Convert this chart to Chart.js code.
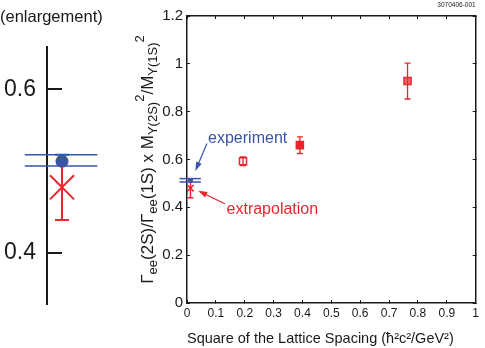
<!DOCTYPE html>
<html>
<head>
<meta charset="utf-8">
<script src="https://cdn.jsdelivr.net/npm/chart.js@4.4.0/dist/chart.umd.min.js"></script>
<style>
    html, body { margin: 0; padding: 0; background: #fff; }
    #wrap { position: relative; width: 485px; height: 348px; }
    #wrap canvas { position: absolute; left: 0; top: 0; }
</style>
</head>
<body>
<div id="wrap">
    <canvas id="mainChart" width="485" height="348"></canvas>
    <canvas id="zoomChart" width="130" height="348"></canvas>
</div>
<script>
// lattice points: a^2 (GeV^-2) vs ratio
const latticeA2 = [0.194, 0.391, 0.764];
const latticeRatio = [0.593, 0.660, 0.928];
const latticeErr = [0.018, 0.035, 0.075];

// extrapolation to a = 0
const extrapX = 0.012;
const extrapY = 0.48;
const extrapLow = 0.44;
const extrapHigh = 0.52;

// experiment
const expX = 0.012;
const expY = 0.512;
const expBand = [0.506, 0.52];
const expSpan = [-0.026, 0.048];

// ticks
const xTicks = [0, 0.1, 0.2, 0.3, 0.4, 0.5, 0.6, 0.7, 0.8, 0.9, 1];
const xTickLabels = ['0', '0.1', '0.2', '0.3', '0.4', '0.5', '0.6', '0.7', '0.8', '0.9', '1'];
const yTicks = [0, 0.2, 0.4, 0.6, 0.8, 1, 1.2];
const yTickLabels = ['0', '0.2', '0.4', '0.6', '0.8', '1', '1.2'];
const zoomTicks = [0.4, 0.6];
const zoomTickLabels = ['0.4', '0.6'];

const RED = '#e8262d';
const BLUE = '#3a54a8';
const INK = '#1a1a1a';
const FONT = '"Liberation Sans", Arial, sans-serif';
const markerFills = ['#ffffff', RED, '#f06a70'];

function buildDatasets(sz) {
    const sets = [];
    sets.push({ type: 'scatter', data: [{ x: expX, y: expY }], pointStyle: 'circle', pointRadius: sz.dot,
        backgroundColor: BLUE, borderColor: BLUE, borderWidth: 0, clip: false });
    expBand.forEach(b => {
        sets.push({ type: 'line', data: [{ x: expSpan[0], y: b }, { x: expSpan[1], y: b }],
            borderColor: BLUE, borderWidth: sz.band, pointRadius: 0, clip: false });
    });
    sets.push({ type: 'scatter', data: [{ x: extrapX, y: extrapY }], pointStyle: 'crossRot', pointRadius: sz.cross,
        borderColor: RED, borderWidth: sz.lw, clip: false });
    sets.push({ type: 'line', data: [{ x: extrapX, y: extrapLow }, { x: extrapX, y: extrapHigh }],
        borderColor: RED, borderWidth: sz.lw, pointStyle: 'line', pointRadius: sz.cap,
        pointBorderColor: RED, pointBorderWidth: sz.lw, clip: false });
    if (sz.lattice) {
        latticeA2.forEach((a, i) => {
            sets.push({ type: 'line', data: [{ x: a, y: latticeRatio[i] - latticeErr[i] }, { x: a, y: latticeRatio[i] + latticeErr[i] }],
                borderColor: RED, borderWidth: 1.3, pointStyle: 'line', pointRadius: 3,
                pointBorderColor: RED, pointBorderWidth: 1.3 });
        });
        sets.push({ type: 'scatter', data: latticeA2.map((a, i) => ({ x: a, y: latticeRatio[i] })),
            pointStyle: 'rect', pointRadius: 5, backgroundColor: markerFills, borderColor: RED, borderWidth: 1.5 });
    }
    return sets;
}

function drawArrow(ctx, x1, y1, x2, y2, color) {
    const ang = Math.atan2(y2 - y1, x2 - x1);
    ctx.strokeStyle = color;
    ctx.fillStyle = color;
    ctx.lineWidth = 1.2;
    ctx.beginPath();
    ctx.moveTo(x1, y1);
    ctx.lineTo(x2 - 6 * Math.cos(ang), y2 - 6 * Math.sin(ang));
    ctx.stroke();
    ctx.beginPath();
    ctx.moveTo(x2, y2);
    ctx.lineTo(x2 - 9 * Math.cos(ang) + 3 * Math.sin(ang), y2 - 9 * Math.sin(ang) - 3 * Math.cos(ang));
    ctx.lineTo(x2 - 9 * Math.cos(ang) - 3 * Math.sin(ang), y2 - 9 * Math.sin(ang) + 3 * Math.cos(ang));
    ctx.closePath();
    ctx.fill();
}

// rotated y title with sub/superscripts
const yTitleParts = [
    ['\u0393', 0], ['ee', 1], ['(2S)/\u0393', 0], ['ee', 1], ['(1S) x M', 0], ['\u03A5(2S)', 1], ['2', 2],
    ['/M', 0], ['\u03A5(1S)', 1], ['2', 2]
];

const textPlugin = {
    id: 'texts',
    afterDraw(chart) {
        const ctx = chart.ctx;
        const xs = chart.scales.x, ys = chart.scales.y;
        ctx.save();
        // y title
        const f = 17, fs = 13;
        ctx.translate(147, (chart.chartArea.top + chart.chartArea.bottom) / 2);
        ctx.rotate(-Math.PI / 2);
        let total = 0;
        yTitleParts.forEach(p => {
            ctx.font = (p[1] ? fs : f) + 'px ' + FONT;
            total += ctx.measureText(p[0]).width;
        });
        let cx = -total / 2;
        ctx.fillStyle = INK;
        ctx.textBaseline = 'alphabetic';
        yTitleParts.forEach(p => {
            ctx.font = (p[1] ? fs : f) + 'px ' + FONT;
            const dy = p[1] === 1 ? 0.35 * f + 4 : p[1] === 2 ? 0.35 * f - 9 : 0.35 * f;
            ctx.fillText(p[0], cx, dy);
            cx += ctx.measureText(p[0]).width;
        });
        ctx.restore();

        ctx.save();
        ctx.font = '6.5px ' + FONT;
        ctx.fillStyle = INK;
        ctx.textAlign = 'right';
        ctx.textBaseline = 'middle';
        ctx.fillText('3070406-001', chart.chartArea.right, 5);

        // annotations
        ctx.font = '16px ' + FONT;
        ctx.textAlign = 'left';
        ctx.fillStyle = BLUE;
        ctx.fillText('experiment', xs.getPixelForValue(0.073), ys.getPixelForValue(0.688));
        drawArrow(ctx, xs.getPixelForValue(0.069), ys.getPixelForValue(0.667),
            xs.getPixelForValue(0.029), ys.getPixelForValue(0.552), BLUE);
        ctx.fillStyle = RED;
        ctx.fillText('extrapolation', xs.getPixelForValue(0.137), ys.getPixelForValue(0.39));
        drawArrow(ctx, xs.getPixelForValue(0.131), ys.getPixelForValue(0.415),
            xs.getPixelForValue(0.039), ys.getPixelForValue(0.469), RED);
        ctx.restore();
    }
};

const zoomTextPlugin = {
    id: 'zoomTexts',
    afterDraw(chart) {
        const ctx = chart.ctx;
        ctx.save();
        ctx.font = '16.5px ' + FONT;
        ctx.fillStyle = INK;
        ctx.textBaseline = 'middle';
        ctx.fillText('(enlargement)', 0, 17);
        ctx.restore();
    }
};

function fixTicks(values) {
    return s => { s.ticks = values.map(v => ({ value: v })); };
}

new Chart(document.getElementById('mainChart'), {
    type: 'scatter',
    data: { datasets: buildDatasets({ dot: 2.5, band: 1.5, cross: 4.5, lw: 1.5, cap: 3, lattice: true }) },
    options: {
        responsive: false,
        animation: false,
        events: [],
        plugins: { legend: { display: false }, tooltip: { enabled: false } },
        layout: { padding: 0 },
        scales: {
            x: {
                type: 'linear', position: 'bottom', min: 0, max: 1,
                afterBuildTicks: fixTicks(xTicks),
                afterFit: s => { s.height = 45; },
                ticks: { font: { family: FONT, size: 12 }, color: INK, padding: 6, maxRotation: 0, autoSkip: false,
                    callback: (v, i) => xTickLabels[i] },
                grid: { drawOnChartArea: false, tickLength: -3, color: INK, lineWidth: 1 },
                border: { color: INK, width: 1.5 },
                title: { display: true, align: 'start', text: 'Square of the Lattice Spacing (\u0127\u00B2c\u00B2/GeV\u00B2)',
                    font: { family: FONT, size: 14.5 }, color: INK, padding: { top: 0, bottom: 0 } }
            },
            x2: {
                type: 'linear', position: 'top', min: 0, max: 1,
                afterBuildTicks: fixTicks(xTicks),
                afterFit: s => { s.height = 13; },
                ticks: { display: false },
                grid: { drawOnChartArea: false, tickLength: -3, color: INK, lineWidth: 1 },
                border: { color: INK, width: 1.5 }
            },
            y: {
                type: 'linear', position: 'left', min: 0, max: 1.2,
                afterBuildTicks: fixTicks(yTicks),
                afterFit: s => { s.width = 187; },
                ticks: { font: { family: FONT, size: 15 }, color: INK, padding: 7,
                    callback: (v, i) => yTickLabels[i] },
                grid: { drawOnChartArea: false, tickLength: -3, color: INK, lineWidth: 1 },
                border: { color: INK, width: 1.5 }
            },
            y2: {
                type: 'linear', position: 'right', min: 0, max: 1.2,
                afterBuildTicks: fixTicks(yTicks),
                afterFit: s => { s.width = 7; },
                ticks: { display: false },
                grid: { drawOnChartArea: false, tickLength: -3, color: INK, lineWidth: 1 },
                border: { color: INK, width: 1.5 }
            }
        }
    },
    plugins: [textPlugin]
});

new Chart(document.getElementById('zoomChart'), {
    type: 'scatter',
    data: { datasets: buildDatasets({ dot: 6.5, band: 1.5, cross: 17, lw: 2, cap: 7, lattice: false }) },
    options: {
        responsive: false,
        animation: false,
        events: [],
        plugins: { legend: { display: false }, tooltip: { enabled: false } },
        layout: { padding: { left: 0, right: 68, top: 47, bottom: 44 } },
        scales: {
            x: { type: 'linear', display: false, min: -0.0033, max: 0.012 },
            y: {
                type: 'linear', position: 'left', min: 0.337, max: 0.652,
                afterBuildTicks: fixTicks(zoomTicks),
                afterFit: s => { s.width = 47; },
                ticks: { font: { family: FONT, size: 23 }, color: INK, padding: 11,
                    callback: (v, i) => zoomTickLabels[i] },
                grid: { drawOnChartArea: true, drawTicks: false, color: INK, lineWidth: 2 },
                border: { color: INK, width: 2 }
            }
        }
    },
    plugins: [zoomTextPlugin]
});
</script>
</body>
</html>
